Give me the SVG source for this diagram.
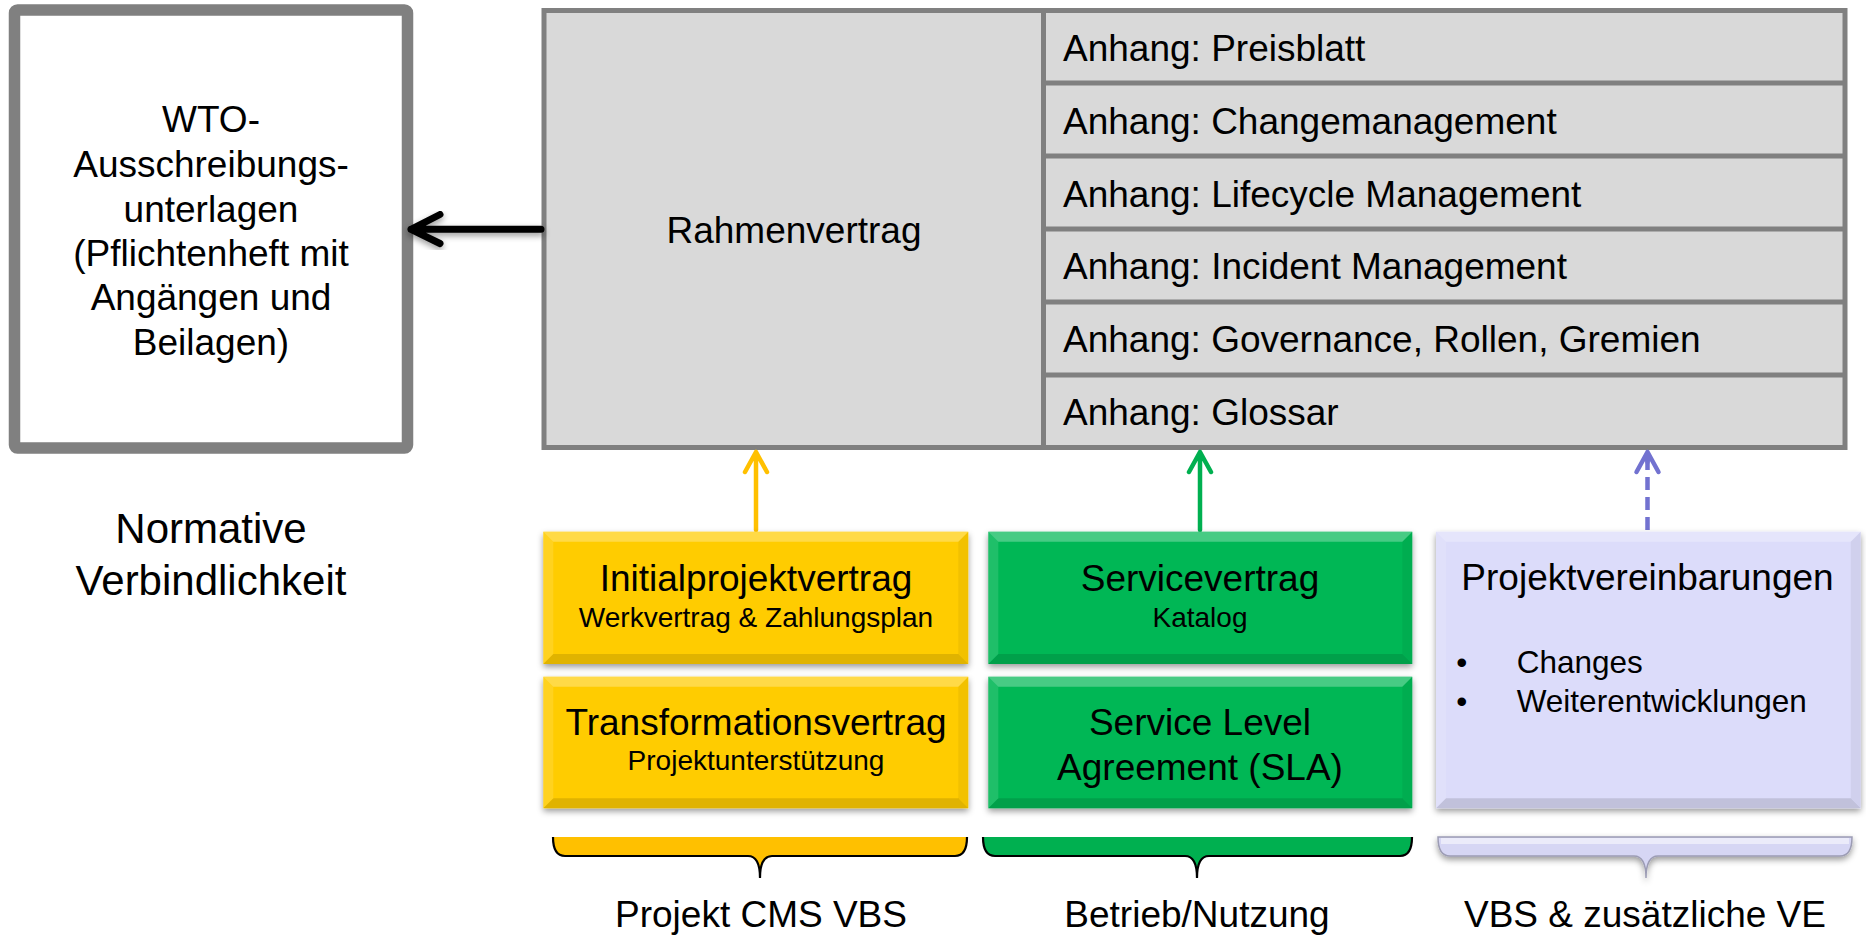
<svg xmlns="http://www.w3.org/2000/svg" width="1866" height="935" viewBox="0 0 1866 935">
<defs>
<style>
text{font-family:"Liberation Sans",Arial,sans-serif;fill:#000}
.big{font-size:37px}
.sub{font-size:28px}
.t{text-anchor:middle}
.frame{fill:#D9D9D9;stroke:#808080;stroke-width:5}
.div{stroke:#808080;stroke-width:5;fill:none}
.bt{fill:#fff;opacity:0.28}
.bl{fill:#fff;opacity:0.12}
.br{fill:#000;opacity:0.05}
.bb{fill:#000;opacity:0.12}
.conn{fill:none;stroke-linecap:round;stroke-linejoin:round}
</style>
<filter id="sh" x="-10%" y="-10%" width="120%" height="130%">
<feDropShadow dx="0" dy="3" stdDeviation="3" flood-color="#000" flood-opacity="0.4"/>
</filter>
</defs>
<rect width="1866" height="935" fill="#fff"/>

<g id="wto">
<rect x="14.5" y="10" width="393" height="438" rx="3" fill="#fff" stroke="#808080" stroke-width="11.5"/>
<text class="big t" x="211" y="132">WTO-</text>
<text class="big t" x="211" y="177">Ausschreibungs-</text>
<text class="big t" x="211" y="222">unterlagen</text>
<text class="big t" x="211" y="266">(Pflichtenheft mit</text>
<text class="big t" x="211" y="310">Angängen und</text>
<text class="big t" x="211" y="355">Beilagen)</text>
</g>

<g id="normative">
<text class="t" x="211" y="543" font-size="42">Normative</text>
<text class="t" x="211" y="595" font-size="42">Verbindlichkeit</text>
</g>

<g id="rahmenvertrag">
<rect class="frame" x="544" y="10.5" width="1301" height="437"/>
<line class="div" x1="1043.5" y1="10.5" x2="1043.5" y2="447.5"/>
<line class="div" x1="1043.5" y1="83" x2="1845" y2="83"/>
<line class="div" x1="1043.5" y1="156" x2="1845" y2="156"/>
<line class="div" x1="1043.5" y1="229" x2="1845" y2="229"/>
<line class="div" x1="1043.5" y1="302" x2="1845" y2="302"/>
<line class="div" x1="1043.5" y1="375" x2="1845" y2="375"/>
<text class="big t" x="794" y="243">Rahmenvertrag</text>
<text class="big" x="1063" y="61">Anhang: Preisblatt</text>
<text class="big" x="1063" y="134">Anhang: Changemanagement</text>
<text class="big" x="1063" y="207">Anhang: Lifecycle Management</text>
<text class="big" x="1063" y="279">Anhang: Incident Management</text>
<text class="big" x="1063" y="352">Anhang: Governance, Rollen, Gremien</text>
<text class="big" x="1063" y="425">Anhang: Glossar</text>
</g>

<g id="connectors">
<g filter="url(#sh)">
<path class="conn" d="M541,229.3 L411,229.3 M440,214.5 L411,229.3 L440,243.5" stroke="#000" stroke-width="7"/>
</g>
<path class="conn" d="M756,530 L756,452 M745,472 L756,452 L767,472" stroke="#FFC000" stroke-width="4.5"/>
<path class="conn" d="M1200,530 L1200,452 M1189,472 L1200,452 L1211,472" stroke="#00B050" stroke-width="4.5"/>
<path d="M1647.5,530 L1647.5,458" fill="none" stroke="#7272D0" stroke-width="4.5" stroke-dasharray="13 7"/>
<path class="conn" d="M1636.5,472 L1647.5,452 L1658.5,472 M1647.5,452 L1647.5,462" stroke="#7272D0" stroke-width="4.5"/>
</g>

<g id="initialprojektvertrag">
<g filter="url(#sh)"><rect x="543.3" y="531.7" width="425" height="132.3" fill="#FFCC00"/></g>
<polygon class="bt" points="543.3,531.7 968.3,531.7 958.3,541.7 553.3,541.7"/>
<polygon class="bl" points="543.3,531.7 553.3,541.7 553.3,654 543.3,664"/>
<polygon class="br" points="968.3,531.7 968.3,664 958.3,654 958.3,541.7"/>
<polygon class="bb" points="543.3,664 553.3,654 958.3,654 968.3,664"/>
<text class="big t" x="756" y="591">Initialprojektvertrag</text>
<text class="sub t" x="756" y="627">Werkvertrag &amp; Zahlungsplan</text>
</g>

<g id="transformationsvertrag">
<g filter="url(#sh)"><rect x="543.3" y="676.7" width="425" height="131.6" fill="#FFCC00"/></g>
<polygon class="bt" points="543.3,676.7 968.3,676.7 958.3,686.7 553.3,686.7"/>
<polygon class="bl" points="543.3,676.7 553.3,686.7 553.3,798.3 543.3,808.3"/>
<polygon class="br" points="968.3,676.7 968.3,808.3 958.3,798.3 958.3,686.7"/>
<polygon class="bb" points="543.3,808.3 553.3,798.3 958.3,798.3 968.3,808.3"/>
<text class="big t" x="756" y="735">Transformationsvertrag</text>
<text class="sub t" x="756" y="770">Projektunterstützung</text>
</g>

<g id="servicevertrag">
<g filter="url(#sh)"><rect x="988.3" y="531.7" width="424" height="132.3" fill="#06B754"/></g>
<polygon class="bt" points="988.3,531.7 1412.3,531.7 1402.3,541.7 998.3,541.7"/>
<polygon class="bl" points="988.3,531.7 998.3,541.7 998.3,654 988.3,664"/>
<polygon class="br" points="1412.3,531.7 1412.3,664 1402.3,654 1402.3,541.7"/>
<polygon class="bb" points="988.3,664 998.3,654 1402.3,654 1412.3,664"/>
<text class="big t" x="1200" y="591">Servicevertrag</text>
<text class="sub t" x="1200" y="627">Katalog</text>
</g>

<g id="sla">
<g filter="url(#sh)"><rect x="988.3" y="676.7" width="424" height="131.6" fill="#06B754"/></g>
<polygon class="bt" points="988.3,676.7 1412.3,676.7 1402.3,686.7 998.3,686.7"/>
<polygon class="bl" points="988.3,676.7 998.3,686.7 998.3,798.3 988.3,808.3"/>
<polygon class="br" points="1412.3,676.7 1412.3,808.3 1402.3,798.3 1402.3,686.7"/>
<polygon class="bb" points="988.3,808.3 998.3,798.3 1402.3,798.3 1412.3,808.3"/>
<text class="big t" x="1200" y="735">Service Level</text>
<text class="big t" x="1200" y="780">Agreement (SLA)</text>
</g>

<g id="projektvereinbarungen">
<g filter="url(#sh)"><rect x="1436" y="531.7" width="424.7" height="276.6" fill="#DCDCFA"/></g>
<polygon class="bt" points="1436,531.7 1860.7,531.7 1850.7,541.7 1446,541.7"/>
<polygon class="bl" points="1436,531.7 1446,541.7 1446,798.3 1436,808.3"/>
<polygon class="br" points="1860.7,531.7 1860.7,808.3 1850.7,798.3 1850.7,541.7"/>
<polygon class="bb" points="1436,808.3 1446,798.3 1850.7,798.3 1860.7,808.3"/>
<text class="big t" x="1647.5" y="590">Projektvereinbarungen</text>
<text class="t" x="1461.7" y="673" font-size="31.5">•</text>
<text x="1516.7" y="673" font-size="31.5">Changes</text>
<text class="t" x="1461.7" y="712" font-size="31.5">•</text>
<text x="1516.7" y="712" font-size="31.5">Weiterentwicklungen</text>
</g>

<g id="brace-projekt">
<path d="M553,837 Q553,856 565,856 L748,856 Q760,856 760,878 Q760,856 772,856 L955,856 Q967,856 967,837 Z" fill="#FFC000"/>
<path d="M553,837 Q553,856 565,856 L748,856 Q760,856 760,878 Q760,856 772,856 L955,856 Q967,856 967,837" fill="none" stroke="#000" stroke-width="2.2"/>
<text class="big t" x="761" y="927">Projekt CMS VBS</text>
</g>

<g id="brace-betrieb">
<path d="M983,837 Q983,856 995,856 L1185,856 Q1197,856 1197,878 Q1197,856 1209,856 L1400,856 Q1412,856 1412,837 Z" fill="#00B050"/>
<path d="M983,837 Q983,856 995,856 L1185,856 Q1197,856 1197,878 Q1197,856 1209,856 L1400,856 Q1412,856 1412,837" fill="none" stroke="#000" stroke-width="2.2"/>
<text class="big t" x="1197" y="927">Betrieb/Nutzung</text>
</g>

<g id="brace-vbs">
<g filter="url(#sh)">
<path d="M1438,837 Q1438,856 1450,856 L1634,856 Q1646,856 1646,878 Q1646,856 1658,856 L1840,856 Q1852,856 1852,837 Z" fill="#D6D6F4" stroke="#9C9CB4" stroke-width="1.5"/>
</g>
<rect x="1441" y="838" width="408" height="6" fill="#fff" opacity="0.5"/>
<text class="big t" x="1645" y="927">VBS &amp; zusätzliche VE</text>
</g>
</svg>
